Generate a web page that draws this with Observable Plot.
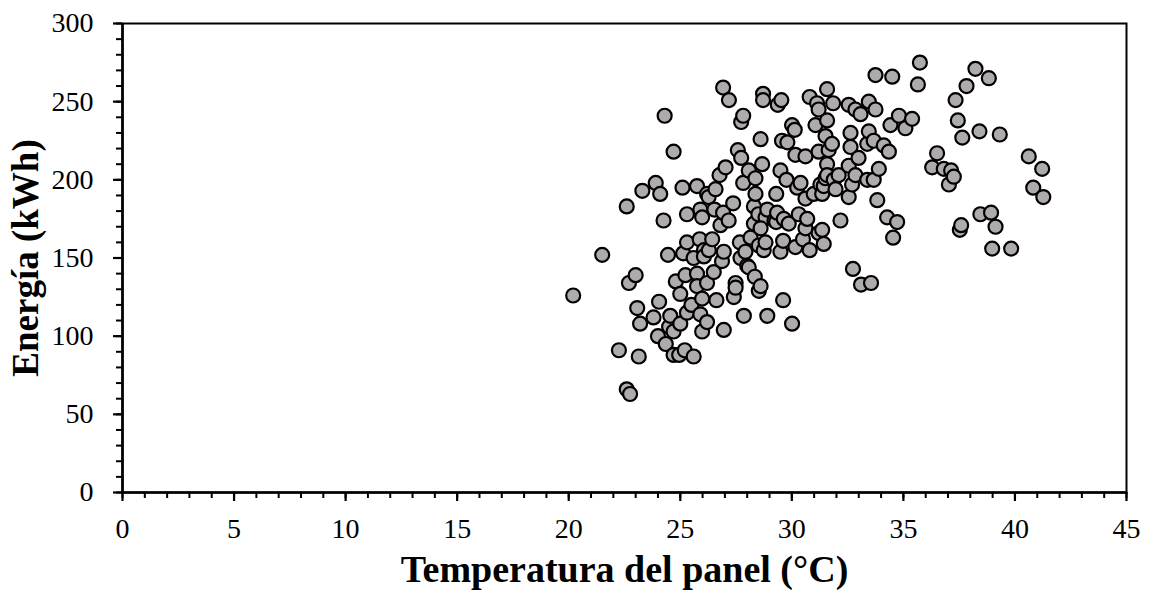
<!DOCTYPE html>
<html>
<head>
<meta charset="utf-8">
<script src="https://cdn.jsdelivr.net/npm/d3@7"></script>
<script src="https://cdn.jsdelivr.net/npm/@observablehq/plot@0.6"></script>
<style>
  html, body { margin: 0; padding: 0; background: #fff; }
  #chart { width: 1151px; height: 593px; }
</style>
</head>
<body>
<div id="chart"></div>
<script>
const temperatura = [
  20.2, 21.5, 22.25, 22.6, 22.75, 22.6, 22.7, 23.0, 23.07, 23.14,
  23.3, 23.2, 23.8, 23.9, 24.0, 24.05, 24.1, 24.3, 24.25, 24.35,
  24.45, 24.5, 24.55, 24.7, 24.7, 24.7, 24.8, 24.95, 25.0, 25.0,
  25.1, 25.13, 25.2, 25.23, 25.3, 25.3, 25.3, 25.6, 25.5, 25.6,
  25.75, 25.75, 25.75, 25.87, 25.9, 25.9, 25.98, 25.98, 25.98, 26.06,
  26.06, 26.2, 26.2, 26.2, 26.27, 26.28, 26.43, 26.5, 26.53, 26.58,
  26.62, 26.76, 26.8, 26.87, 26.92, 26.92, 26.95, 26.95, 27.03, 27.17,
  27.18, 27.37, 27.4, 27.48, 27.48, 27.58, 27.67, 27.7, 27.73, 27.73,
  27.82, 27.82, 27.85, 27.92, 28.0, 28.07, 28.07, 28.15, 28.3, 28.3,
  28.34, 28.37, 28.37, 28.5, 28.52, 28.52, 28.6, 28.6, 28.67, 28.71,
  28.71, 28.74, 28.82, 28.82, 28.9, 28.9, 29.22, 29.3, 29.3, 29.34,
  29.37, 29.49, 29.49, 29.53, 29.56, 29.61, 29.61, 29.64, 29.76, 29.8,
  29.86, 30.01, 30.01, 30.13, 30.16, 30.16, 30.24, 30.31, 30.39, 30.5,
  30.61, 30.61, 30.61, 30.69, 30.8, 30.8, 30.98, 31.06, 31.13, 31.2,
  31.2, 31.2, 31.28, 31.36, 31.36, 31.43, 31.43, 31.51, 31.51, 31.58,
  31.58, 31.58, 31.58, 31.65, 31.8, 31.85, 31.88, 31.96, 32.1, 32.18,
  32.55, 32.55, 32.55, 32.63, 32.63, 32.7, 32.74, 32.85, 32.85, 32.99,
  33.08, 33.1, 33.38, 33.38, 33.45, 33.45, 33.55, 33.67, 33.67, 33.75,
  33.75, 33.83, 33.9, 34.12, 34.35, 34.27, 34.42, 34.5, 34.54, 34.72,
  34.8, 35.09, 35.39, 35.65, 35.74, 36.29, 36.51, 36.81, 37.04, 37.14,
  37.26, 37.34, 37.44, 37.53, 37.59, 37.64, 37.83, 38.23, 38.41, 38.45,
  38.83, 38.93, 38.98, 39.13, 39.32, 39.83, 40.62, 40.82, 41.22, 41.27,
  28.6
];
const energia = [
  126, 152, 91, 66, 63, 183, 134, 139, 118, 87,
  193, 108, 112, 198, 100, 122, 191, 241, 174, 95,
  152, 106, 113, 218, 103, 88, 135, 88, 108, 127,
  195, 153, 91, 139, 178, 160, 115, 150, 120, 87,
  196, 140, 132, 162, 181, 114, 176, 124, 103, 155,
  151, 191, 134, 109, 189, 155, 162, 141, 181, 194,
  123, 203, 171, 148, 179, 259, 154, 104, 208, 174,
  251, 185, 125, 134, 131, 219, 160, 150, 214, 237,
  241, 198, 113, 154, 145, 206, 144, 163, 172, 183,
  138, 201, 191, 178, 158, 129, 132, 226, 210, 255,
  251, 155, 176, 160, 181, 113, 174, 191, 173, 179,
  248, 206, 154, 251, 225, 161, 123, 175, 200, 224,
  172, 235, 108, 232, 216, 157, 195, 178, 198, 162,
  215, 188, 169, 175, 253, 155, 191, 235, 249, 245,
  218, 166, 197, 191, 168, 196, 159, 228, 201, 258,
  238, 210, 203, 219, 223, 249, 200, 194, 203, 174,
  248, 209, 189, 230, 221, 197, 143, 245, 203, 214,
  242, 133, 200, 223, 250, 231, 134, 225, 200, 267,
  245, 187, 207, 222, 218, 176, 235, 266, 163, 173,
  241, 233, 239, 261, 275, 208, 217, 207, 197, 206,
  202, 251, 238, 168, 171, 227, 260, 271, 231, 178,
  265, 179, 156, 170, 229, 156, 215, 195, 207, 189,
  169
];
const xTicks = [0, 5, 10, 15, 20, 25, 30, 35, 40, 45];
const yTicks = [0, 50, 100, 150, 200, 250, 300];
const xMinor = d3.range(0, 46, 1);
const yMinor = d3.range(0, 301, 10);
const xLabel = "Temperatura del panel (°C)";
const yLabel = "Energía (kWh)";

const data = temperatura.map((t, i) => ({t, e: energia[i]}));

const chart = Plot.plot({
  width: 1151,
  height: 593,
  marginLeft: 122,
  marginRight: 25,
  marginTop: 23,
  marginBottom: 101,
  style: {fontFamily: "'Liberation Serif', 'Times New Roman', serif", color: "#000", background: "#fff"},
  x: {domain: [0, 45]},
  y: {domain: [0, 300]},
  marks: [
    Plot.frame({stroke: "#000", strokeWidth: 2}),
    Plot.axisX(xMinor, {tickSize: 6, tickFormat: () => "", strokeWidth: 2, label: null}),
    Plot.axisY(yMinor, {tickSize: 6, tickFormat: () => "", strokeWidth: 2, label: null}),
    Plot.axisX(xTicks, {tickSize: 9, tickPadding: 17, fontSize: 28, strokeWidth: 2.2, label: null}),
    Plot.axisY(yTicks, {tickSize: 9, tickPadding: 20, fontSize: 28, strokeWidth: 2.2, label: null}),
    Plot.ruleX([0], {stroke: "#000", strokeWidth: 2.6}),
    Plot.ruleY([0], {stroke: "#000", strokeWidth: 2.6}),
    Plot.dot(data, {x: "t", y: "e", r: 7, fill: "#afabab", stroke: "#000", strokeWidth: 2.2}),
    Plot.text([xLabel], {frameAnchor: "bottom", dy: 77, textAnchor: "middle", lineAnchor: "middle", fontSize: 38, fontWeight: "bold", fill: "#000"}),
    Plot.text([yLabel], {frameAnchor: "left", dx: -96, textAnchor: "middle", lineAnchor: "middle", rotate: -90, fontSize: 37, fontWeight: "bold", fill: "#000"})
  ]
});
document.getElementById("chart").appendChild(chart);
</script>
</body>
</html>
